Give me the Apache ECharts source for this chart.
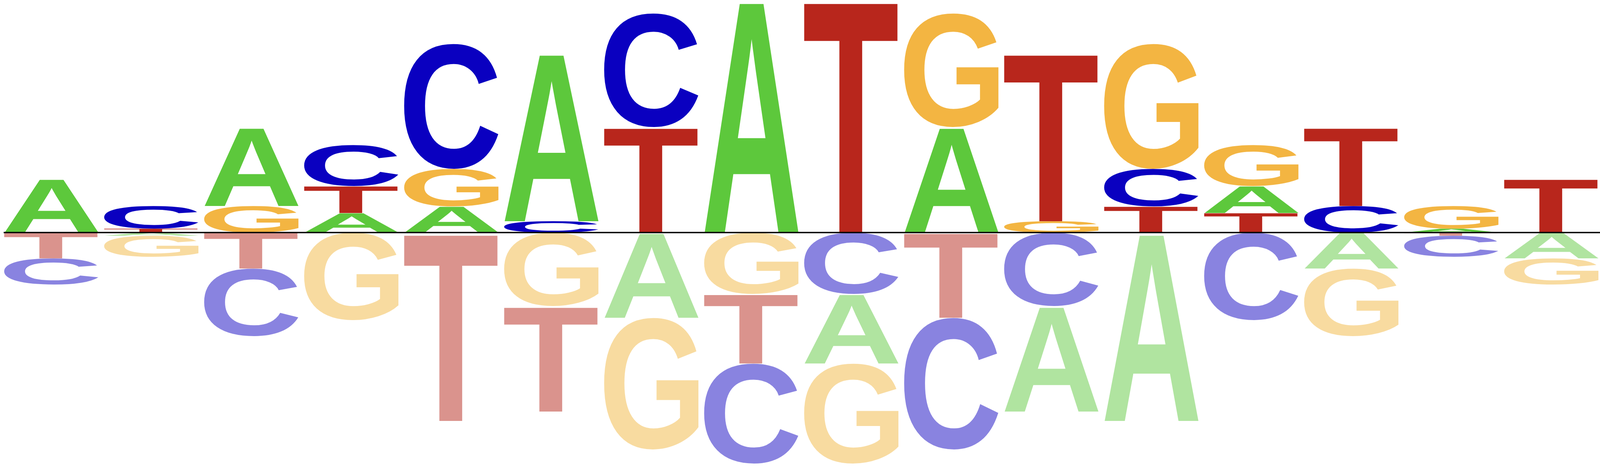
<!DOCTYPE html>
<html lang="en">
<head>
<meta charset="UTF-8">
<title>Sequence logo</title>
<script src="https://cdn.jsdelivr.net/npm/echarts@6.0.0/dist/echarts.min.js"></script>
<style>
  html, body { margin: 0; padding: 0; background: #fff; overflow: hidden; }
  #main { width: 100vw; height: 100vh; }
</style>
</head>
<body>
<div id="main"></div>
<script>
// letter heights for the 16 positions, above and below the baseline
var letters = ['A', 'C', 'G', 'T'];
var upA = [1.37, 0, 2.01, 0.50, 0.67, 4.31, 0, 5.95, 0, 2.70, 0, 0, 0.69, 0, 0.10, 0];
var upC = [0, 0.58, 0, 1.05, 3.20, 0.29, 2.91, 0, 0, 0, 0, 0.96, 0, 0.68, 0, 0];
var upG = [0, 0, 0.68, 0, 0.96, 0, 0, 0, 0, 2.91, 0.29, 3.20, 1.05, 0, 0.58, 0];
var upT = [0, 0.10, 0, 0.69, 0, 0, 2.70, 0, 5.95, 0, 4.31, 0.67, 0.50, 2.01, 0, 1.37];
var downA = [0, 0.08, 0, 0, 0, 0, 2.18, 0, 1.78, 0, 2.70, 4.82, 0, 0.92, 0, 0.66];
var downC = [0.67, 0, 1.73, 0, 0, 0, 0, 2.56, 1.57, 3.37, 1.88, 0, 2.24, 0, 0.54, 0];
var downG = [0, 0.54, 0, 2.24, 0, 1.88, 3.37, 1.57, 2.56, 0, 0, 0, 0, 1.73, 0, 0.67];
var downT = [0.66, 0, 0.92, 0, 4.82, 2.70, 0, 1.78, 0, 2.18, 0, 0, 0, 0, 0.08, 0];

var upColors = ['#5dc83c', '#0a00c0', '#f3b542', '#b8261c'];
var downColors = ['#b0e4a0', '#8983e0', '#f8dba0', '#da938d'];
var FONT = 'bold 100px "Liberation Sans"';

// ink box of each glyph, measured the same way zrender draws it (middle baseline, left align)
var metrics = {};
(function () {
    var ctx = document.createElement('canvas').getContext('2d');
    ctx.font = FONT;
    ctx.textBaseline = 'middle';
    ctx.textAlign = 'left';
    letters.forEach(function (l) {
        var m = ctx.measureText(l);
        metrics[l] = {
            left: m.actualBoundingBoxLeft,
            right: m.actualBoundingBoxRight,
            ascent: m.actualBoundingBoxAscent,
            descent: m.actualBoundingBoxDescent
        };
    });
})();

// stack letters: smallest next to the baseline
var ups = [upA, upC, upG, upT];
var downs = [downA, downC, downG, downT];
var data = [];
for (var i = 0; i < 16; i++) {
    [[ups, 1, 0], [downs, -1, 1]].forEach(function (s) {
        var order = [0, 1, 2, 3].filter(function (k) { return s[0][k][i] > 0; })
            .sort(function (a, b) { return s[0][a][i] - s[0][b][i]; });
        var acc = 0;
        order.forEach(function (k) {
            var h = s[0][k][i];
            data.push([i, s[1] * acc, s[1] * (acc + h), k, s[2]]);
            acc += h;
        });
    });
}

function renderItem(params, api) {
    var x = api.value(0), lo = api.value(1), hi = api.value(2);
    var k = api.value(3), neg = api.value(4);
    var p0 = api.coord([x - 0.475, Math.max(lo, hi)]);
    var p1 = api.coord([x + 0.475, Math.min(lo, hi)]);
    var w = p1[0] - p0[0], h = p1[1] - p0[1];
    if (h < 0.5) return;
    var l = letters[k], m = metrics[l];
    var sx = w / (m.left + m.right), sy = h / (m.ascent + m.descent);
    return {
        type: 'text',
        x: p0[0] + sx * m.left,
        y: p0[1] + sy * m.ascent,
        scaleX: sx,
        scaleY: sy,
        style: {
            text: l, x: 0, y: 0, font: FONT,
            fill: neg ? downColors[k] : upColors[k],
            align: 'left', verticalAlign: 'middle'
        }
    };
}

var chart = echarts.init(document.getElementById('main'));
chart.setOption({
    animation: false,
    grid: { left: '0.23%', right: 0, top: 0, bottom: 0 },
    xAxis: { type: 'value', min: -0.4783, max: 15.485, show: false },
    yAxis: { type: 'value', min: -6.05, max: 5.95, show: false },
    series: [{
        type: 'custom',
        renderItem: renderItem,
        encode: { x: 0, y: [1, 2] },
        data: data,
        markLine: {
            silent: true,
            symbol: 'none',
            label: { show: false },
            lineStyle: { color: '#000', width: 3.5, type: 'solid' },
            data: [{ yAxis: 0 }]
        }
    }]
});
window.addEventListener('resize', function () { chart.resize(); });
</script>
</body>
</html>
